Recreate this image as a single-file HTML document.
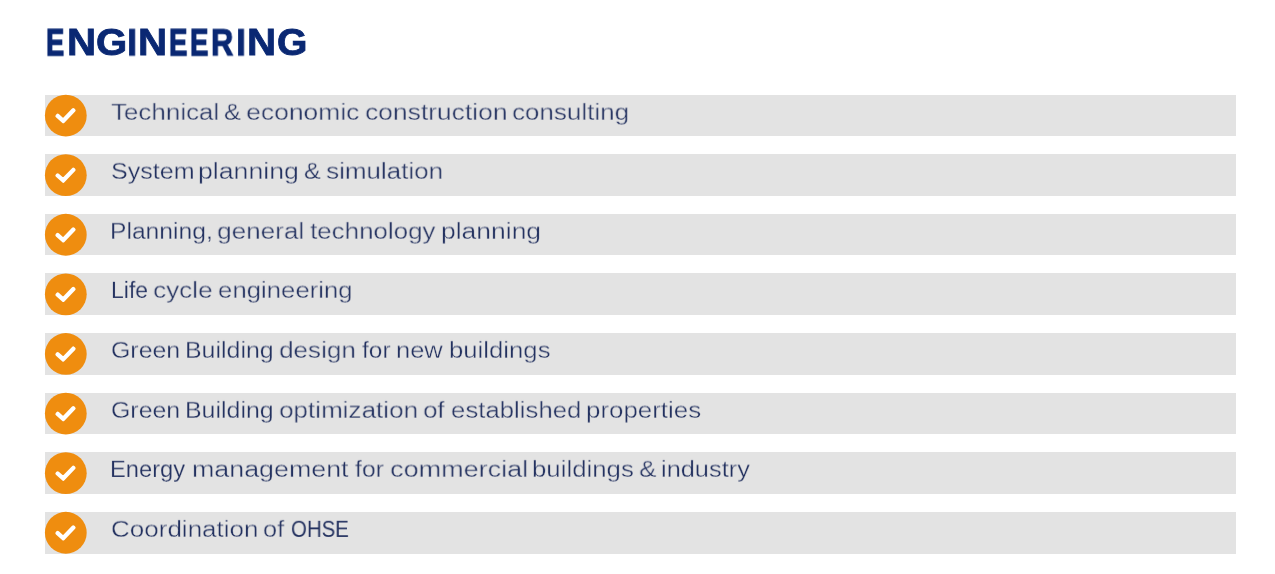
<!DOCTYPE html>
<html>
<head>
<meta charset="utf-8">
<style>
html,body{margin:0;padding:0;background:#fff;}
body{width:1275px;height:574px;position:relative;overflow:hidden;font-family:"Liberation Sans",sans-serif;}
h1{position:absolute;left:0;top:0;margin:0;font-size:0;}
.hl{position:absolute;top:20px;font-size:37.5px;line-height:44px;font-weight:bold;color:#0a2873;-webkit-text-stroke:0.8px #0a2873;transform-origin:0 0;will-change:transform;}
.row{position:absolute;left:45px;width:1191px;background:#e3e3e3;}
.ic{position:absolute;left:0;top:0;width:1275px;height:574px;}
.t{position:absolute;left:0;font-size:23px;line-height:28px;color:#243260;-webkit-text-stroke:0.3px #e3e3e3;white-space:nowrap;}
.t span{position:absolute;top:0;transform-origin:0 0;will-change:transform;}
</style>
</head>
<body>
<h1><span class="hl" style="left:46.22px;transform:translateY(0.3px) scaleX(0.7289);-webkit-text-stroke-width:1.3px">E</span><span class="hl" style="left:66.65px;transform:translateY(0.3px) scaleX(1.0739);-webkit-text-stroke-width:0.8px">N</span><span class="hl" style="left:95.96px;transform:translateY(0.3px) scaleX(1.0692);-webkit-text-stroke-width:0.8px">G</span><span class="hl" style="left:126.95px;transform:translateY(0.3px) scaleX(0.976);-webkit-text-stroke-width:0.8px">I</span><span class="hl" style="left:137.75px;transform:translateY(0.3px) scaleX(1.0739);-webkit-text-stroke-width:0.8px">N</span><span class="hl" style="left:168.52px;transform:translateY(0.3px) scaleX(0.7333);-webkit-text-stroke-width:1.3px">E</span><span class="hl" style="left:189.92px;transform:translateY(0.3px) scaleX(0.7333);-webkit-text-stroke-width:1.3px">E</span><span class="hl" style="left:210.65px;transform:translateY(0.3px) scaleX(0.8238);-webkit-text-stroke-width:1.1px">R</span><span class="hl" style="left:236.18px;transform:translateY(0.3px) scaleX(0.96);-webkit-text-stroke-width:0.8px">I</span><span class="hl" style="left:247.15px;transform:translateY(0.3px) scaleX(1.0739);-webkit-text-stroke-width:0.8px">N</span><span class="hl" style="left:276.9px;transform:translateY(0.3px) scaleX(1.0423);-webkit-text-stroke-width:0.8px">G</span></h1>
<div class="row" style="top:95px;height:41px"></div>
<div class="row" style="top:154px;height:42px"></div>
<div class="row" style="top:214px;height:41px"></div>
<div class="row" style="top:273px;height:42px"></div>
<div class="row" style="top:333px;height:42px"></div>
<div class="row" style="top:393px;height:41px"></div>
<div class="row" style="top:452px;height:42px"></div>
<div class="row" style="top:512px;height:42px"></div>
<svg class="ic" viewBox="0 0 1275 574">
<g transform="translate(65.8 115.55)"><circle r="20.9" fill="#ef8d0f"/><path d="M-8.76 0.47 L-2.57 5.99 L8.17 -5.17 L7.45 -5.86 L-2.63 4.61 L-8.09 -0.27 Z" fill="#fff" stroke="#fff" stroke-width="3.3" stroke-linejoin="round"/></g>
<g transform="translate(65.8 175.15)"><circle r="20.9" fill="#ef8d0f"/><path d="M-8.76 0.47 L-2.57 5.99 L8.17 -5.17 L7.45 -5.86 L-2.63 4.61 L-8.09 -0.27 Z" fill="#fff" stroke="#fff" stroke-width="3.3" stroke-linejoin="round"/></g>
<g transform="translate(65.8 234.75)"><circle r="20.9" fill="#ef8d0f"/><path d="M-8.76 0.47 L-2.57 5.99 L8.17 -5.17 L7.45 -5.86 L-2.63 4.61 L-8.09 -0.27 Z" fill="#fff" stroke="#fff" stroke-width="3.3" stroke-linejoin="round"/></g>
<g transform="translate(65.8 294.35)"><circle r="20.9" fill="#ef8d0f"/><path d="M-8.76 0.47 L-2.57 5.99 L8.17 -5.17 L7.45 -5.86 L-2.63 4.61 L-8.09 -0.27 Z" fill="#fff" stroke="#fff" stroke-width="3.3" stroke-linejoin="round"/></g>
<g transform="translate(65.8 353.95)"><circle r="20.9" fill="#ef8d0f"/><path d="M-8.76 0.47 L-2.57 5.99 L8.17 -5.17 L7.45 -5.86 L-2.63 4.61 L-8.09 -0.27 Z" fill="#fff" stroke="#fff" stroke-width="3.3" stroke-linejoin="round"/></g>
<g transform="translate(65.8 413.55)"><circle r="20.9" fill="#ef8d0f"/><path d="M-8.76 0.47 L-2.57 5.99 L8.17 -5.17 L7.45 -5.86 L-2.63 4.61 L-8.09 -0.27 Z" fill="#fff" stroke="#fff" stroke-width="3.3" stroke-linejoin="round"/></g>
<g transform="translate(65.8 473.15)"><circle r="20.9" fill="#ef8d0f"/><path d="M-8.76 0.47 L-2.57 5.99 L8.17 -5.17 L7.45 -5.86 L-2.63 4.61 L-8.09 -0.27 Z" fill="#fff" stroke="#fff" stroke-width="3.3" stroke-linejoin="round"/></g>
<g transform="translate(65.8 532.75)"><circle r="20.9" fill="#ef8d0f"/><path d="M-8.76 0.47 L-2.57 5.99 L8.17 -5.17 L7.45 -5.86 L-2.63 4.61 L-8.09 -0.27 Z" fill="#fff" stroke="#fff" stroke-width="3.3" stroke-linejoin="round"/></g>
</svg>
<div class="t" style="top:99px"><span style="left:111.25px;transform:scale(1.1283,0.95);-webkit-text-stroke-width:0.35px">Technical</span> <span style="left:224.19px;transform:scale(1.1127,0.95);-webkit-text-stroke-width:0.34px">&amp;</span> <span style="left:246.26px;transform:scale(1.1522,0.95);-webkit-text-stroke-width:0.35px">economic</span> <span style="left:364.96px;transform:scale(1.1488,0.95);-webkit-text-stroke-width:0.35px">construction</span> <span style="left:512.09px;transform:scale(1.1295,0.95);-webkit-text-stroke-width:0.35px">consulting</span></div>
<div class="t" style="top:158px"><span style="left:110.54px;transform:scale(1.0902,0.95);-webkit-text-stroke-width:0.3px">System</span> <span style="left:197.67px;transform:scale(1.1605,0.95);-webkit-text-stroke-width:0.35px">planning</span> <span style="left:303.5px;transform:scale(1.0982,0.95);-webkit-text-stroke-width:0.32px">&amp;</span> <span style="left:325.95px;transform:scale(1.1309,0.95);-webkit-text-stroke-width:0.35px">simulation</span></div>
<div class="t" style="top:218px"><span style="left:110.06px;transform:scale(1.0714,0.95);-webkit-text-stroke-width:0.27px">Planning,</span> <span style="left:217.16px;transform:scale(1.1351,0.95);-webkit-text-stroke-width:0.35px">general</span> <span style="left:309.54px;transform:scale(1.1276,0.95);-webkit-text-stroke-width:0.35px">technology</span> <span style="left:441.19px;transform:scale(1.1509,0.95);-webkit-text-stroke-width:0.35px">planning</span></div>
<div class="t" style="top:277px"><span style="left:110.51px;transform:scale(0.9971,0.95);-webkit-text-stroke-width:0.14px">Life</span> <span style="left:153.18px;transform:scale(1.136,0.95);-webkit-text-stroke-width:0.35px">cycle</span> <span style="left:218.2px;transform:scale(1.119,0.95);-webkit-text-stroke-width:0.35px">engineering</span></div>
<div class="t" style="top:337px"><span style="left:110.65px;transform:scale(1.082,0.95);-webkit-text-stroke-width:0.29px">Green</span> <span style="left:184.73px;transform:scale(1.0837,0.95);-webkit-text-stroke-width:0.29px">Building</span> <span style="left:279.07px;transform:scale(1.1326,0.95);-webkit-text-stroke-width:0.35px">design</span> <span style="left:361.57px;transform:scale(1.0602,0.95);-webkit-text-stroke-width:0.26px">for</span> <span style="left:395.86px;transform:scale(1.1081,0.95);-webkit-text-stroke-width:0.33px">new</span> <span style="left:449.34px;transform:scale(1.1182,0.95);-webkit-text-stroke-width:0.35px">buildings</span></div>
<div class="t" style="top:397px"><span style="left:110.65px;transform:scale(1.082,0.95);-webkit-text-stroke-width:0.29px">Green</span> <span style="left:184.73px;transform:scale(1.0837,0.95);-webkit-text-stroke-width:0.29px">Building</span> <span style="left:279.17px;transform:scale(1.1325,0.95);-webkit-text-stroke-width:0.35px">optimization</span> <span style="left:422.97px;transform:scale(1.1278,0.95);-webkit-text-stroke-width:0.35px">of</span> <span style="left:450.8px;transform:scale(1.1198,0.95);-webkit-text-stroke-width:0.35px">established</span> <span style="left:585.63px;transform:scale(1.1256,0.95);-webkit-text-stroke-width:0.35px">properties</span></div>
<div class="t" style="top:456px"><span style="left:110.44px;transform:scale(1.0298,0.95);-webkit-text-stroke-width:0.2px">Energy</span> <span style="left:191.66px;transform:scale(1.166,0.95);-webkit-text-stroke-width:0.35px">management</span> <span style="left:355.06px;transform:scale(1.0757,0.95);-webkit-text-stroke-width:0.28px">for</span> <span style="left:390.13px;transform:scale(1.1738,0.95);-webkit-text-stroke-width:0.35px">commercial</span> <span style="left:532.14px;transform:scale(1.1216,0.95);-webkit-text-stroke-width:0.35px">buildings</span> <span style="left:639.07px;transform:scale(1.1273,0.95);-webkit-text-stroke-width:0.35px">&amp;</span> <span style="left:661.27px;transform:scale(1.1032,0.95);-webkit-text-stroke-width:0.32px">industry</span></div>
<div class="t" style="top:516px"><span style="left:110.69px;transform:scale(1.131,0.95);-webkit-text-stroke-width:0.35px">Coordination</span> <span style="left:263.39px;transform:scale(1.1056,0.95);-webkit-text-stroke-width:0.33px">of</span> <span style="left:290.89px;transform:scale(0.8876,0.95);-webkit-text-stroke-width:0.0px">OHSE</span></div>
</body>
</html>
